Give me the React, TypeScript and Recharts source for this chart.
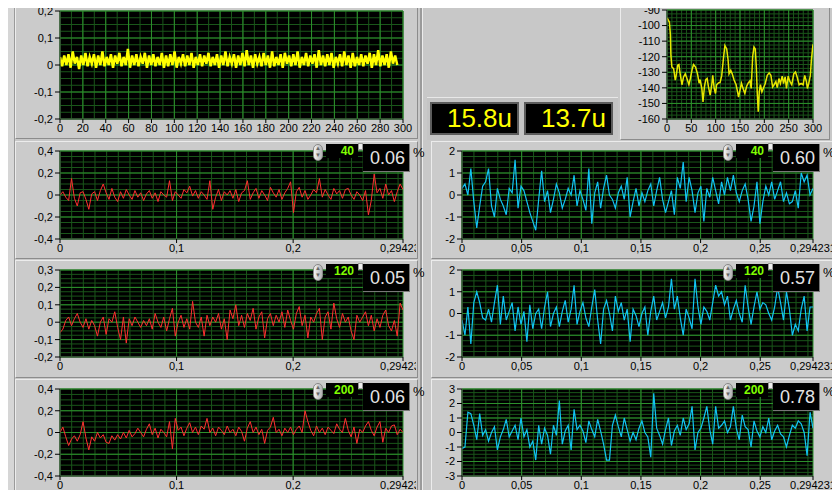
import React from "react";
import { LineChart, Line, XAxis, YAxis, CartesianGrid } from "recharts";

// time span of the three filtered windows (s)
const WINDOW_SPAN = 0.294231;

// raw acquisition, 0..295
const rawSignal = [
  0.03, -0.005, 0.035, 0.0, 0.04, -0.01, 0.05, 0.005, 0.03, -0.015,
  0.035, 0.0, 0.045, -0.005, 0.03, 0.005, 0.04, -0.01, 0.035, 0.0,
  0.05, -0.005, 0.03, 0.0, 0.04, -0.01, 0.035, 0.005, 0.045, -0.005,
  0.03, 0.0, 0.06, -0.01, 0.035, 0.0, 0.04, -0.005, 0.03, 0.005,
  0.045, -0.01, 0.035, 0.0, 0.04, -0.005, 0.03, 0.0, 0.045, -0.01,
  0.035, -0.005, 0.04, 0.0, 0.05, -0.01, 0.03, 0.005, 0.04, -0.005,
  0.035, 0.0, 0.045, -0.01, 0.03, 0.0, 0.04, -0.005, 0.035, 0.005,
  0.045, -0.005, 0.03, 0.0, 0.04, -0.01, 0.035, 0.0, 0.05, -0.005,
  0.03, 0.005, 0.04, -0.01, 0.035, 0.0, 0.045, -0.005, 0.055, 0.0,
  0.035, -0.01, 0.04, 0.005, 0.03, -0.005, 0.045, 0.0, 0.035, -0.01,
  0.05, -0.005, 0.03, 0.0, 0.04, -0.01, 0.045, 0.005, 0.035, -0.005,
  0.04, 0.0, 0.05, -0.01, 0.03, 0.0, 0.045, -0.005, 0.035, 0.005,
  0.04, -0.01, 0.055, 0.0, 0.035, -0.005, 0.04, 0.0, 0.045, -0.01,
  0.03, 0.005, 0.04, -0.005, 0.05, 0.0, 0.035, -0.01, 0.045, -0.005,
  0.03, 0.0, 0.04, -0.005, 0.035, 0.005, 0.045, -0.01, 0.04, 0.0,
  0.055, -0.005, 0.035, 0.0, 0.04, -0.01, 0.05, 0.005, 0.035, 0.0,
];
const RAW_END = 295;

// power spectrum (dB)
const spectrumHz = [
  0, 1.4, 5, 7, 8, 10, 13.6, 17, 19, 22, 24.5, 27, 30.7, 34, 37.5, 41, 45, 48, 52, 54.5,
  58.7, 62.7, 66, 68, 71.6, 74, 77, 79.7, 82.5, 85, 88.7, 92, 94, 97, 99.6, 102, 105.7, 109, 112.5, 116,
  119, 122.7, 125.5, 127.5, 131, 134, 137.8, 142, 145, 147, 150, 153, 157, 160, 163.7, 167, 170.5, 173, 176, 178.7,
  181.4, 183.5, 185.5, 187.5, 189.6, 192, 195, 197.8, 201.9, 206, 210, 213.5, 217, 220, 223.7, 226.5, 230, 233, 236.7, 239.4,
  242.8, 245.5, 249, 252, 256.4, 260.5, 264, 267.4, 271.5, 275.6, 279.7, 283, 286.5, 288.5, 291.2, 294.6, 296.7, 299.4, 300,
];
const spectrumDb = [
  -95, -95.7, -97.9, -106, -119, -126.6, -127.7, -135, -132, -125.5, -125, -131, -138, -133, -131, -134, -138, -134, -127.7, -125,
  -126.6, -131, -137, -134.7, -140.4, -149, -139, -134.7, -134, -139, -144.7, -138, -132, -140.4, -143.6, -138, -136.8, -136.6, -132, -121,
  -112.8, -115, -122, -131, -128.7, -131, -135, -138, -142.6, -146, -141.5, -137, -141, -143.6, -139, -136.8, -135.5, -140.4, -120, -113.8,
  -115, -126.6, -143.6, -155.3, -142.6, -138, -142.6, -140.4, -137.2, -132, -130.4, -132, -139.4, -138, -136, -139.8, -134, -137.2, -132.5, -137.2,
  -133, -140.4, -132.5, -135.5, -138, -131, -129.8, -133, -138, -137.2, -138, -132, -136, -140.4, -137.2, -132, -122, -113.8, -112,
];

// channel A (red), filter settings 40 / 120 / 200
const chanA40 = [
  0.0, 0.03, -0.02, -0.05, 0.15, -0.03, -0.1, 0.02, 0.03, -0.04,
  -0.13, 0.01, 0.03, -0.05, 0.04, 0.1, 0.02, -0.04, 0.06, -0.02,
  -0.06, 0.03, -0.03, 0.05, 0.0, -0.04, 0.04, -0.02, 0.02, -0.05,
  0.01, 0.04, -0.03, 0.02, -0.06, 0.03, 0.0, -0.02, 0.13, -0.05,
  0.03, 0.0, -0.03, 0.05, 0.02, 0.08, -0.01, 0.04, -0.03, 0.03,
  0.0, -0.04, 0.13, -0.13, -0.02, 0.05, -0.05, 0.03, 0.0, 0.04,
  -0.03, 0.05, -0.06, 0.02, 0.04, 0.13, -0.04, 0.02, 0.06, -0.03,
  0.04, 0.0, -0.05, 0.07, 0.02, -0.02, 0.05, -0.04, 0.02, 0.06,
  0.12, -0.16, 0.03, 0.07, -0.02, 0.04, -0.04, 0.0, 0.05, 0.02,
  0.15, -0.02, 0.05, 0.0, -0.04, 0.06, 0.01, 0.04, -0.03, 0.05,
  0.06, 0.0, -0.04, 0.03, 0.0, -0.05, 0.04, -0.18, -0.05, 0.19,
  0.02, 0.06, -0.03, 0.1, 0.0, 0.04, -0.06, 0.03, 0.1, 0.05,
];
const chanA120 = [
  -0.06, -0.04, 0.01, 0.03, -0.02, 0.02, 0.05, 0.0, -0.03, 0.02,
  -0.04, 0.01, -0.02, -0.08, 0.0, 0.03, -0.07, 0.02, 0.0, 0.06,
  -0.03, -0.1, 0.03, -0.12, 0.02, -0.02, 0.03, 0.0, -0.03, 0.01,
  -0.02, 0.02, -0.04, 0.05, 0.0, -0.03, 0.03, -0.05, 0.02, 0.08,
  -0.08, 0.0, 0.04, -0.03, 0.02, -0.04, 0.12, 0.0, -0.03, 0.03,
  -0.08, 0.04, -0.02, 0.03, 0.0, 0.05, -0.04, 0.02, -0.1, 0.07,
  0.02, 0.1, -0.02, 0.04, -0.03, 0.05, 0.01, 0.08, -0.04, 0.03,
  0.06, -0.09, 0.02, 0.05, -0.02, 0.04, 0.0, 0.06, -0.03, 0.07,
  0.01, -0.04, 0.05, 0.09, -0.02, 0.04, -0.09, 0.03, 0.0, 0.05,
  0.08, -0.1, 0.03, 0.06, -0.04, 0.11, 0.02, -0.03, 0.05, 0.0,
  0.03, -0.05, -0.1, 0.04, 0.0, 0.03, 0.06, -0.02, 0.04, -0.05,
  0.02, -0.03, 0.04, 0.07, -0.02, -0.05, 0.01, -0.08, 0.11, 0.07,
];
const chanA200 = [
  0.0, 0.05, -0.04, -0.12, -0.06, -0.03, -0.08, -0.02, 0.1, -0.05,
  -0.16, -0.04, -0.08, 0.0, -0.05, -0.02, -0.09, -0.1, -0.03, -0.07,
  -0.02, -0.06, 0.0, -0.05, 0.02, -0.04, -0.01, 0.04, 0.0, -0.04,
  0.03, 0.08, -0.02, 0.04, -0.05, 0.03, 0.0, -0.04, 0.1, -0.15,
  0.13, 0.02, 0.05, -0.03, 0.04, 0.09, 0.0, 0.05, -0.02, 0.06,
  0.03, 0.13, 0.0, 0.04, -0.03, 0.05, 0.02, -0.02, 0.06, 0.0,
  0.03, -0.03, 0.05, 0.01, -0.08, 0.04, 0.1, 0.0, 0.05, -0.02,
  0.03, -0.1, 0.02, 0.05, 0.14, 0.0, 0.03, -0.03, 0.04, 0.0,
  0.05, -0.02, 0.03, 0.06, 0.0, 0.2, 0.1, 0.02, -0.03, 0.06,
  0.0, 0.04, -0.02, 0.05, 0.02, -0.01, 0.08, 0.03, 0.0, 0.13,
  0.02, -0.04, 0.05, -0.1, 0.03, 0.0, 0.06, 0.1, 0.02, -0.03,
  0.05, 0.1, -0.09, 0.04, 0.0, 0.06, 0.07, -0.02, 0.03, 0.0,
];

// channel B (cyan), same filter settings
const chanB40 = [
  0.3, 0.5, 0.0, 1.2, -0.3, -1.5, -0.5, 0.4, 0.6, 1.2,
  -0.5, -1.0, 0.3, -0.2, -0.5, -0.9, 0.3, 0.1, 1.6, -0.6,
  0.4, 0.2, -0.3, -0.8, -1.2, -1.6, -0.2, 1.1, -0.3, 0.2,
  -0.8, -0.2, 0.5, 0.1, -0.6, -0.2, 0.3, 0.0, 0.9, -0.5,
  0.2, -0.2, -0.7, 1.2, -1.3, 0.1, 0.6, -0.6, 0.3, 0.9,
  0.0, -0.2, -0.6, 0.1, 0.4, -0.2, 0.8, -1.0, -0.3, 0.3,
  -0.5, 0.1, -0.3, 0.2, 0.5, -0.5, 0.2, 0.8, -0.2, -0.8,
  -0.3, 0.2, -0.9, 0.8, 0.3, 1.5, -0.3, 0.8, 0.2, -0.8,
  0.1, 0.4, -1.2, 0.3, -0.1, 0.8, 0.2, -0.4, 0.6, 0.0,
  0.8, 0.2, 0.9, 0.1, -0.3, 0.2, 0.5, -0.2, -1.2, -0.5,
  0.6, -1.3, -0.3, 0.4, 0.0, 0.6, -0.2, 0.2, 0.6, -0.3,
  0.1, -0.4, -0.3, 0.2, -0.6, 1.0, 0.6, 0.9, 0.0, 0.3,
];
const chanB120 = [
  -0.3, -1.0, 0.3, -1.4, 0.5, 1.0, 0.5, -0.2, -0.3, 0.2,
  -0.4, 0.5, 1.3, -0.5, 0.8, -0.3, 0.1, 0.5, -0.8, 0.3,
  -0.5, 0.1, -1.3, 0.4, -0.7, 0.0, 0.2, -0.7, 0.3, 1.0,
  -0.6, 0.0, 0.3, -0.6, 0.1, 0.6, -0.4, 0.2, 1.3, -0.5,
  0.1, 0.5, -0.2, -0.6, 0.3, 1.1, -0.3, -1.4, 0.2, 0.6,
  0.0, -0.8, 0.8, 0.1, 0.5, -0.3, 0.2, -1.3, 0.2, -0.1,
  -0.6, 0.0, 0.3, -1.0, 0.1, 0.8, -0.3, 0.1, 0.5, -0.2,
  0.3, 1.6, 0.2, 0.8, -0.2, -1.0, 0.2, -0.2, -0.7, 1.6,
  0.3, -0.5, 0.3, 0.1, -0.3, 0.5, 1.3, 0.8, 1.0, 0.4,
  0.8, -0.3, 0.2, 0.6, 0.0, -0.4, 1.3, 0.3, -0.5, 0.3,
  1.0, 0.2, 0.5, 0.4, 0.0, -0.3, 0.3, 1.2, 0.5, -0.3,
  1.0, 0.2, -1.0, -0.5, -0.8, 0.2, 0.8, -0.8, 0.3, 0.3,
];
const chanB200 = [
  -1.1, -1.0, 1.4, 1.3, 0.5, -0.5, 1.3, -0.2, 0.2, -0.6,
  0.0, 0.4, -1.2, -0.3, 0.2, 0.9, -0.3, 0.1, 0.5, -0.5,
  1.0, -0.3, 0.2, -1.0, -0.6, -1.9, 0.5, -0.8, 0.3, -0.2,
  -1.5, 0.5, -0.2, 2.2, -0.8, 0.1, 0.5, -1.2, 1.6, 0.2,
  0.5, 0.1, -0.7, 0.8, 0.2, -0.3, 0.9, 0.1, -0.8, -1.9,
  -1.9, 0.5, 1.2, 0.4, -0.3, 1.0, 0.2, -0.6, 0.0, -0.5,
  0.3, 0.8, 0.0, -0.3, -1.7, 2.7, 0.3, -0.2, -0.8, 0.2,
  1.0, -0.9, 0.1, 0.5, -0.2, 1.0, 0.2, 0.6, 1.8, -1.2,
  0.0, 0.3, 1.0, 1.8, 0.2, -0.8, 1.8, 0.3, 0.5, 0.8,
  0.0, 0.4, 1.8, 0.3, -0.5, 1.2, 0.4, 0.2, -1.0, 0.8,
  0.1, -0.3, 0.4, 0.0, 1.0, -0.5, 0.1, 0.5, -0.1, -0.3,
  -1.0, -0.2, 0.5, 0.3, 0.8, 0.6, 0.0, -1.6, 1.4, 0.3,
];

const filterSettings = ["40", "120", "200"];
const rmsA = ["0.06", "0.05", "0.06"];
const rmsB = ["0.60", "0.57", "0.78"];
const readouts = ["15.8u", "13.7u"];

const rawXTicks = [0, 20, 40, 60, 80, 100, 120, 140, 160, 180, 200, 220, 240, 260, 280, 300];
const rawYTicks = [-0.2, -0.1, 0, 0.1, 0.2];
const specXTicks = [0, 50, 100, 150, 200, 250, 300];
const specYTicks = [-160, -150, -140, -130, -120, -110, -100, -90];
const winXTicksA = [0, 0.1, 0.2, WINDOW_SPAN];
const winXTicksB = [0, 0.05, 0.1, 0.15, 0.2, 0.25, WINDOW_SPAN];
const yTicksA = [
  [-0.4, -0.2, 0, 0.2, 0.4],
  [-0.2, -0.1, 0, 0.1, 0.2, 0.3],
  [-0.4, -0.2, 0, 0.2, 0.4],
];
const yTicksB = [
  [-2, -1, 0, 1, 2],
  [-2, -1, 0, 1, 2],
  [-3, -2, -1, 0, 1, 2, 3],
];

const steps = (a: number, b: number, d: number) => {
  const out: number[] = [];
  for (let v = a; v <= b + d / 2; v += d) out.push(Math.round(v * 1e6) / 1e6);
  return out;
};
const wave = (vals: number[], span: number) =>
  vals.map((y, i) => ({ x: (i * span) / (vals.length - 1), y }));
const fmt = (v: number) => String(v).replace(".", ",");

const MAJOR = "#2c902c";
const MINOR = "#1a561a";
const RED = "#ff3030";
const CYAN = "#12c4f4";
const FONT = "'Liberation Sans', Arial, sans-serif";

type GraphProps = {
  x: number; y: number; w: number; h: number; clip?: number;
  data: { x: number; y: number }[];
  xTicks: number[]; yTicks: number[];
  xMinor: number[]; yMinor: number[];
  color: string; lineWidth?: number;
};

function Graph({ x, y, w, h, clip, data, xTicks, yTicks, xMinor, yMinor, color, lineWidth = 1 }: GraphProps) {
  const padL = 50, padT = 10, padR = 30, padB = 22;
  const fullW = w + padL + padR;
  const fullH = h + padT + padB;
  const xDomain = [xTicks[0], xTicks[xTicks.length - 1]];
  const yDomain = [yTicks[0], yTicks[yTicks.length - 1]];
  const tick = { fill: "#000", fontSize: 11, fontFamily: FONT };
  return (
    <div style={{ position: "absolute", left: x - padL, top: y - padT, width: clip ?? fullW, height: fullH, overflow: "hidden" }}>
      <LineChart width={fullW} height={fullH} data={data} margin={{ top: padT, right: padR, bottom: 0, left: 0 }}>
        <CartesianGrid fill="#000" stroke={MINOR} horizontalValues={yMinor} verticalValues={xMinor} />
        <CartesianGrid stroke={MAJOR} horizontalValues={yTicks} verticalValues={xTicks} />
        <XAxis type="number" dataKey="x" domain={xDomain} ticks={xTicks} interval={0} height={padB}
          tickSize={4} tickMargin={1} tickFormatter={fmt} tick={tick} axisLine={{ stroke: "#444" }}
          tickLine={{ stroke: "#000" }} allowDataOverflow />
        <YAxis type="number" dataKey="y" domain={yDomain} ticks={yTicks} interval={0} width={padL}
          tickSize={5} tickMargin={2} tickFormatter={fmt} tick={tick} axisLine={{ stroke: "#444" }}
          tickLine={{ stroke: "#000" }} allowDataOverflow />
        <Line type="linear" dataKey="y" stroke={color} strokeWidth={lineWidth} dot={false} isAnimationActive={false} />
      </LineChart>
    </div>
  );
}

function Panel({ x, y, w, h }: { x: number; y: number; w: number; h: number }) {
  return (
    <div style={{
      position: "absolute", left: x, top: y, width: w, height: h, boxSizing: "border-box",
      background: "#cbcbcb", borderTop: "1px solid #ececec", borderLeft: "1px solid #ececec",
      borderRight: "1px solid #8c8c8c", borderBottom: "1px solid #8c8c8c",
    }} />
  );
}

function FilterControl({ x, y, setting, rms }: { x: number; y: number; setting: string; rms: string }) {
  return (
    <>
      <div style={{
        position: "absolute", left: x, top: y, width: 10, height: 17, borderRadius: 5,
        background: "linear-gradient(90deg,#f4f4f4,#b0b0b0)", border: "1px solid #888", boxSizing: "border-box",
        fontSize: 6, lineHeight: "7px", textAlign: "center", color: "#666",
      }}>▲<br />▼</div>
      <div style={{
        position: "absolute", left: x + 13, top: y, width: 32, height: 14, background: "#000",
        color: "#80ff00", fontWeight: "bold", fontSize: 12, fontFamily: FONT, lineHeight: "14px",
        textAlign: "right", paddingRight: 4, boxSizing: "border-box",
      }}>{setting}</div>
      <div style={{ position: "absolute", left: x + 45, top: y - 1, width: 5, height: 7, background: "#eee", border: "1px solid #999", boxSizing: "border-box" }} />
      <div style={{
        position: "absolute", left: x + 50, top: y, width: 47, height: 28, background: "#000",
        color: "#e4e4e4", fontSize: 18, fontFamily: FONT, lineHeight: "28px", textAlign: "right",
        paddingRight: 4, boxSizing: "border-box", borderRight: "1px solid #777", borderBottom: "1px solid #777",
      }}>{rms}</div>
      <div style={{ position: "absolute", left: x + 100, top: y + 1, fontSize: 13, fontFamily: FONT, color: "#000" }}>%</div>
    </>
  );
}

export default function App() {
  const rowPlotTop = [151, 270, 389];
  const rowPlotH = [88, 87, 87];
  const rowPanelTop = [141, 260, 379];
  const controlTop = [144, 264, 383];
  const chanA = [chanA40, chanA120, chanA200];
  const chanB = [chanB40, chanB120, chanB200];
  const spectrum = spectrumHz.map((x, i) => ({ x, y: spectrumDb[i] }));

  return (
    <div style={{ position: "relative", width: 840, height: 498, margin: -8, background: "#c8c8c8", overflow: "hidden", fontFamily: FONT }}>
      <div style={{ position: "absolute", left: 0, top: 0, width: 14, height: 498, background: "#d6d6d6", borderRight: "1px solid #9a9a9a" }} />
      <div style={{ position: "absolute", left: 420, top: 0, width: 2, height: 498, background: "#9a9a9a", borderRight: "1px solid #ececec" }} />

      <Panel x={15} y={2} w={403} h={137} />
      <Panel x={620} y={2} w={210} h={138} />
      <Panel x={15} y={rowPanelTop[0]} w={403} h={118} />
      <Panel x={15} y={rowPanelTop[1]} w={403} h={118} />
      <Panel x={15} y={rowPanelTop[2]} w={403} h={119} />
      <Panel x={431} y={rowPanelTop[0]} w={404} h={118} />
      <Panel x={431} y={rowPanelTop[1]} w={404} h={118} />
      <Panel x={431} y={rowPanelTop[2]} w={404} h={119} />

      <div style={{ position: "absolute", left: 427, top: 97, width: 191, height: 43, background: "#c4c4c4", borderTop: "1px solid #e8e8e8", boxSizing: "border-box" }} />
      {readouts.map((r, i) => (
        <div key={r} style={{
          position: "absolute", left: 430 + i * 94, top: 102, width: 89, height: 33, background: "#000",
          border: "2px solid #5c5c5c", boxSizing: "border-box", color: "#ffff00", fontSize: 26,
          lineHeight: "29px", textAlign: "right", paddingRight: 5,
        }}>{r}</div>
      ))}

      <Graph x={60} y={11} w={343} h={108} data={wave(rawSignal, RAW_END)}
        xTicks={rawXTicks} yTicks={rawYTicks} xMinor={steps(0, 300, 10)} yMinor={steps(-0.2, 0.2, 0.025)}
        color="#ffff00" lineWidth={2.5} />
      <Graph x={667} y={10} w={146} h={109} data={spectrum}
        xTicks={specXTicks} yTicks={specYTicks} xMinor={steps(0, 300, 10)} yMinor={steps(-160, -90, 2.5)}
        color="#e8e800" lineWidth={1.5} />

      {chanA.map((vals, i) => (
        <Graph key={"a" + i} x={60} y={rowPlotTop[i]} w={343} h={rowPlotH[i]} clip={406}
          data={wave(vals, WINDOW_SPAN)} xTicks={winXTicksA} yTicks={yTicksA[i]}
          xMinor={steps(0, 0.29, 0.01)}
          yMinor={i === 1 ? steps(-0.2, 0.3, 0.025) : steps(-0.4, 0.4, 0.05)}
          color={RED} />
      ))}
      {chanB.map((vals, i) => (
        <Graph key={"b" + i} x={462} y={rowPlotTop[i]} w={351} h={rowPlotH[i]}
          data={wave(vals, WINDOW_SPAN)} xTicks={winXTicksB} yTicks={yTicksB[i]}
          xMinor={steps(0, 0.29, 0.01)}
          yMinor={i === 2 ? steps(-3, 3, 0.25) : steps(-2, 2, 0.25)}
          color={CYAN} lineWidth={1.2} />
      ))}

      {filterSettings.map((s, i) => (
        <React.Fragment key={s}>
          <FilterControl x={313} y={controlTop[i]} setting={s} rms={rmsA[i]} />
          <FilterControl x={723} y={controlTop[i]} setting={s} rms={rmsB[i]} />
        </React.Fragment>
      ))}
    </div>
  );
}
